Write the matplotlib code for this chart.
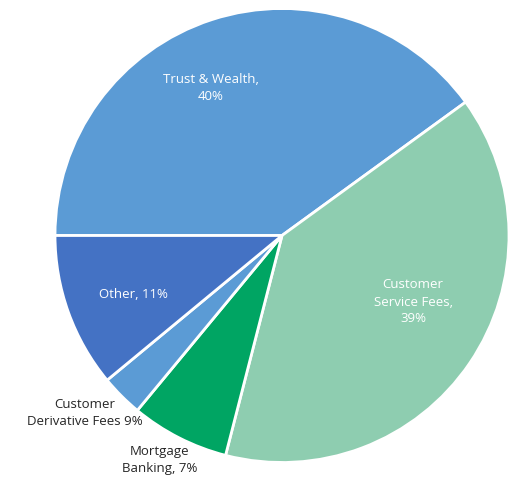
import numpy as np
import matplotlib.pyplot as plt

categories = ['Trust & Wealth', 'Customer Service Fees', 'Mortgage Banking',
              'Customer Derivative Fees', 'Other']
shares = [40, 39, 7, 3, 11]
labels = ['Trust & Wealth,\n40%', 'Customer\nService Fees,\n39%', 'Mortgage\nBanking, 7%',
          'Customer\nDerivative Fees 9%', 'Other, 11%']
colors = ['#5B9BD5', '#8ECDB0', '#00A563', '#5B9BD5', '#4472C4']

# label anchor points (pixels in the 512x484 frame)
label_px = [(211, 88), (413, 302), (160, 460), (85, 413), (133, 294)]
label_colors = ['white', 'white', '#262626', '#262626', 'white']

CX, CY, R = 282, 235.5, 227

fig = plt.figure(figsize=(5.12, 4.84), dpi=100)
ax = fig.add_axes([(CX - R) / 512, (484 - CY - R) / 484, 2 * R / 512, 2 * R / 484])

ax.pie(shares, colors=colors, startangle=180, counterclock=False, radius=1,
       wedgeprops=dict(edgecolor='white', linewidth=2))

for lab, (px, py), c in zip(labels, label_px, label_colors):
    ax.text((px - CX) / R, (CY - py) / R, lab, ha='center', va='center',
            color=c, fontsize=9.5, family='Open Sans', linespacing=1.4)

ax.set_xlim(-1, 1)
ax.set_ylim(-1, 1)
ax.axis('off')

fig.savefig('out.png', dpi=100)
